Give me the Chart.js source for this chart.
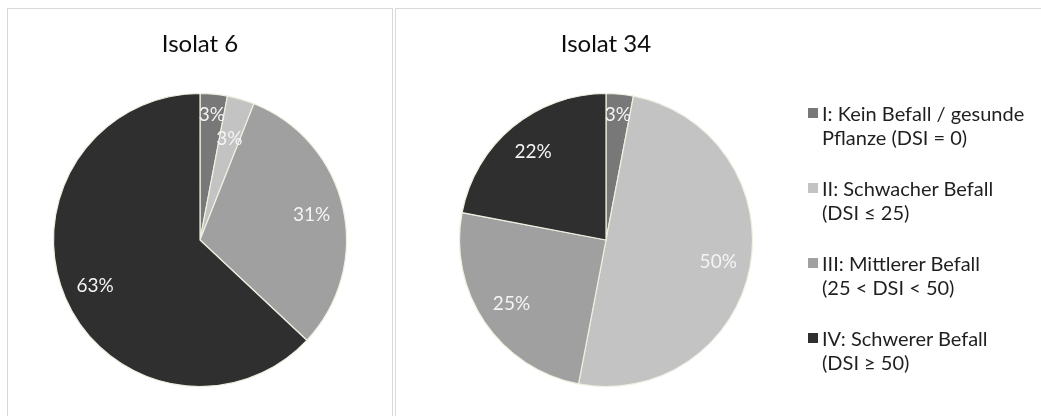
<!DOCTYPE html>
<html><head><meta charset="utf-8">
<script src="https://cdn.jsdelivr.net/npm/chart.js@4.4.1/dist/chart.umd.min.js"></script>
<style>
html,body{margin:0;padding:0;background:#fff;width:1041px;height:416px;overflow:hidden;font-family:Lato,sans-serif;}
.panel{position:absolute;border:1px solid #d9d9d9;box-sizing:border-box;}
#p1{left:7px;top:8px;width:386px;height:440px;}
#p2{left:395px;top:8px;width:680px;height:440px;}
#c1{position:absolute;left:8px;top:9px;}
#c2{position:absolute;left:396px;top:9px;}
#legend{position:absolute;left:808px;top:101px;z-index:2;}
.item{position:relative;padding-left:14px;font-size:20px;line-height:24px;color:#1f1f1f;margin-bottom:27px;white-space:nowrap;}
.box{position:absolute;left:0;top:7px;width:10px;height:10px;}
</style>
</head><body>
<div class="panel" id="p1"></div>
<div class="panel" id="p2"></div>
<canvas id="c1" width="384" height="407"></canvas>
<canvas id="c2" width="420" height="407"></canvas>
<div id="legend"></div>
<script>
const categories = [
  ["I: Kein Befall / gesunde", "Pflanze (DSI = 0)"],
  ["II: Schwacher Befall", "(DSI ≤ 25)"],
  ["III: Mittlerer Befall", "(25 < DSI < 50)"],
  ["IV: Schwerer Befall", "(DSI ≥ 50)"]
];
const titles = ["Isolat 6", "Isolat 34"];
const isolat6 = [3, 3, 31, 63];
const isolat34 = [3, 50, 25, 22];
const colors = ["#787878", "#c3c3c3", "#a0a0a0", "#2f2f2f"];

const labelPlugin = {
  id: 'pctLabels',
  afterDatasetsDraw(chart) {
    const ctx = chart.ctx;
    const meta = chart.getDatasetMeta(0);
    const data = chart.data.datasets[0].data;
    let prevSmall = false;
    ctx.save();
    ctx.font = '19px Lato';
    ctx.fillStyle = '#f4f4f4';
    ctx.textAlign = 'center';
    ctx.textBaseline = 'middle';
    meta.data.forEach((arc, i) => {
      const p = arc.getProps(['x', 'y', 'startAngle', 'endAngle', 'outerRadius'], true);
      const mid = (p.startAngle + p.endAngle) / 2;
      const span = p.endAngle - p.startAngle;
      let f = 0.78;
      if (span < 0.5) { f = prevSmall ? 0.72 : 0.86; prevSmall = true; } else { prevSmall = false; }
      ctx.fillText(data[i] + '%', p.x + Math.cos(mid) * p.outerRadius * f, p.y + Math.sin(mid) * p.outerRadius * f);
    });
    ctx.restore();
  }
};

function makeChart(id, title, values) {
  return new Chart(document.getElementById(id), {
    type: 'pie',
    data: {
      labels: categories,
      datasets: [{
        data: values,
        backgroundColor: colors,
        borderColor: '#efefe2',
        borderWidth: 1.2,
        hoverOffset: 0
      }]
    },
    options: {
      responsive: false,
      animation: false,
      events: [],
      radius: 146.5,
      layout: { padding: { bottom: 4.8 } },
      plugins: {
        legend: { display: false },
        tooltip: { enabled: false },
        title: {
          display: true,
          text: title,
          color: '#0d0d0d',
          font: { family: 'Lato', size: 24, weight: 'normal', lineHeight: 1.2 },
          padding: { top: 21, bottom: 10 }
        }
      }
    },
    plugins: [labelPlugin]
  });
}

makeChart('c1', titles[0], isolat6);
const chart2 = makeChart('c2', titles[1], isolat34);

const items = Chart.overrides.pie.plugins.legend.labels.generateLabels(chart2);
const legend = document.getElementById('legend');
items.forEach(it => {
  const d = document.createElement('div');
  d.className = 'item';
  const b = document.createElement('span');
  b.className = 'box';
  b.style.background = it.fillStyle;
  d.appendChild(b);
  const lines = Array.isArray(it.text) ? it.text : [it.text];
  lines.forEach((ln, k) => {
    if (k) d.appendChild(document.createElement('br'));
    d.appendChild(document.createTextNode(ln));
  });
  legend.appendChild(d);
});
</script>
</body></html>
